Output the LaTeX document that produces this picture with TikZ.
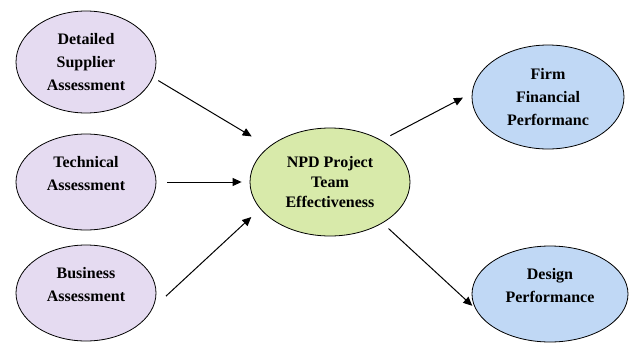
\documentclass[tikz,border=0pt]{standalone}
\usepackage{fontspec}
\setmainfont{Liberation Serif}
\usetikzlibrary{shapes.geometric,arrows.meta}
\definecolor{lavend}{RGB}{229,219,241}
\definecolor{lime}{RGB}{216,234,170}
\definecolor{skyb}{RGB}{192,216,245}
\tikzset{
  oval/.style={ellipse, draw, line width=0.8pt, inner sep=0pt, align=center},
  arr/.style={line width=1pt, -{Triangle[length=9pt,width=8pt]}}
}
\begin{document}
\begin{tikzpicture}[x=1pt,y=-1pt,font=\bfseries\fontsize{16}{23}\selectfont]
			\useasboundingbox (0,0) rectangle (632,343);
			\node [oval, fill=lavend, minimum width=140pt, minimum height=102pt] (dsa) at (86,62) {Detailed\\Supplier\\Assessment};
			\node [oval, fill=lavend, minimum width=140pt, minimum height=96pt] (tsa) at (86,182) {Technical\\Assessment\\[-6pt]\mbox{}};
			\node [oval, fill=lavend, minimum width=140pt, minimum height=96pt] (bsa) at (86,293) {Business\\Assessment\\[-6pt]\mbox{}};
			\node [oval, fill=lime, minimum width=160pt, minimum height=108pt, font=\bfseries\fontsize{16}{20}\selectfont] (npd) at (330,182) {NPD Project\\Team\\Effectiveness};
			\node [oval, fill=skyb, minimum width=152pt, minimum height=104pt] (ffp) at (548,97) {Firm\\Financial\\Performanc};
			\node [oval, fill=skyb, minimum width=156pt, minimum height=96pt] (dp) at (550,294) {Design\\Performance\\[-6pt]\mbox{}};
			\draw [arr, shorten <=6pt, shorten >=20pt] (dsa.-13) -- (npd.150);
			\draw [arr, shorten <=11pt, shorten >=8pt] (tsa.east) -- (npd.west);
			\draw [arr, shorten <=18pt, shorten >=12pt] (bsa.-13) -- (npd.201);
			\draw [arr, shorten <=10pt, shorten >=10pt] (npd.39) -- (ffp.177);
			\draw [arr, shorten <=8pt, shorten >=4pt] (npd.-38) -- (dp.191);
		\end{tikzpicture}
\end{document}
